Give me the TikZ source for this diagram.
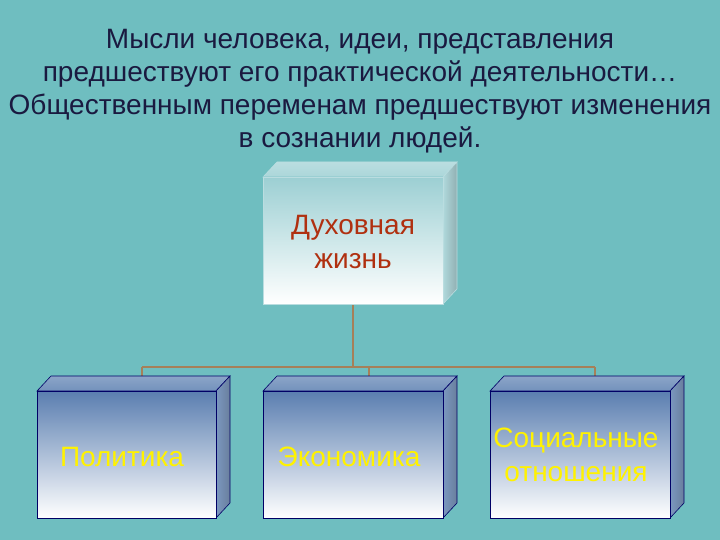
\documentclass[tikz,border=0pt]{standalone}
\usepackage{fontspec}
\setmainfont{Liberation Sans}
\begin{document}
\begin{tikzpicture}[x=1pt,y=-1pt,
  lbl/.style={font=\fontsize{28}{34}\selectfont, align=center},
  conn/.style={draw=brown!60!gray, line width=1.3pt}]
\definecolor{bg}{HTML}{6FBEC0}
\definecolor{topc}{HTML}{9CCFD3}
\definecolor{bluec}{HTML}{5A7EB0}
\definecolor{title}{HTML}{1A1A40}
\definecolor{dred}{HTML}{B03010}
\fill[bg] (0,0) rectangle (720,540);
\useasboundingbox (0,0) rectangle (720,540);
% title
\node[font=\fontsize{28}{33}\selectfont, align=center, text=title] (t) at (360,91)
 {Мысли человека, идеи, представления\\предшествуют его практической деятельности…\\Общественным переменам предшествуют изменения\\в сознании людей.};
% connectors
\coordinate (h) at (353,367);
\coordinate (hl) at (142,367);
\coordinate (hr) at (595,367);
\coordinate (c1) at (142,376);
\coordinate (c2) at (369,376);
\coordinate (c3) at (595,376);
\coordinate (tb) at (353,304);
\draw[conn] (tb) -- (h);
\draw[conn] (hl) -- (hr);
\draw[conn] (hl) -- (c1);
\draw[conn] (369,367) -- (c2);
\draw[conn] (hr) -- (c3);
% box macro
\newcommand{\mybox}[6]{% x1,y1,x2,y2,color,border
 \shade[top color=#5!70!white, bottom color=#5!85!white, draw=#6, line width=0.6pt] (#1,#2) -- (#1+14,#2-15) -- (#3+14,#2-15) -- (#3,#2) -- cycle;
 \shade[left color=#5!80!white, right color=#5!60!gray, draw=#6, line width=0.6pt] (#3,#2) -- (#3+14,#2-15) -- (#3+14,#4-15) -- (#3,#4) -- cycle;
 \shade[top color=#5, bottom color=white, draw=#6, line width=0.6pt] (#1,#2) rectangle (#3,#4);
}
\mybox{263}{177}{443}{304}{topc}{topc!70!white}
\mybox{37}{391}{216}{518}{bluec}{blue!40!black}
\mybox{263}{391}{443}{518}{bluec}{blue!40!black}
\mybox{490}{391}{670}{518}{bluec}{blue!40!black}
\node[lbl, text=dred] (dz) at (353,242) {Духовная\\жизнь};
\node[lbl, text=yellow] (p) at (122,457) {Политика};
\node[lbl, text=yellow] (e) at (349,457) {Экономика};
\node[lbl, text=yellow] (s) at (576,455) {Социальные\\отношения};
\end{tikzpicture}
\end{document}
